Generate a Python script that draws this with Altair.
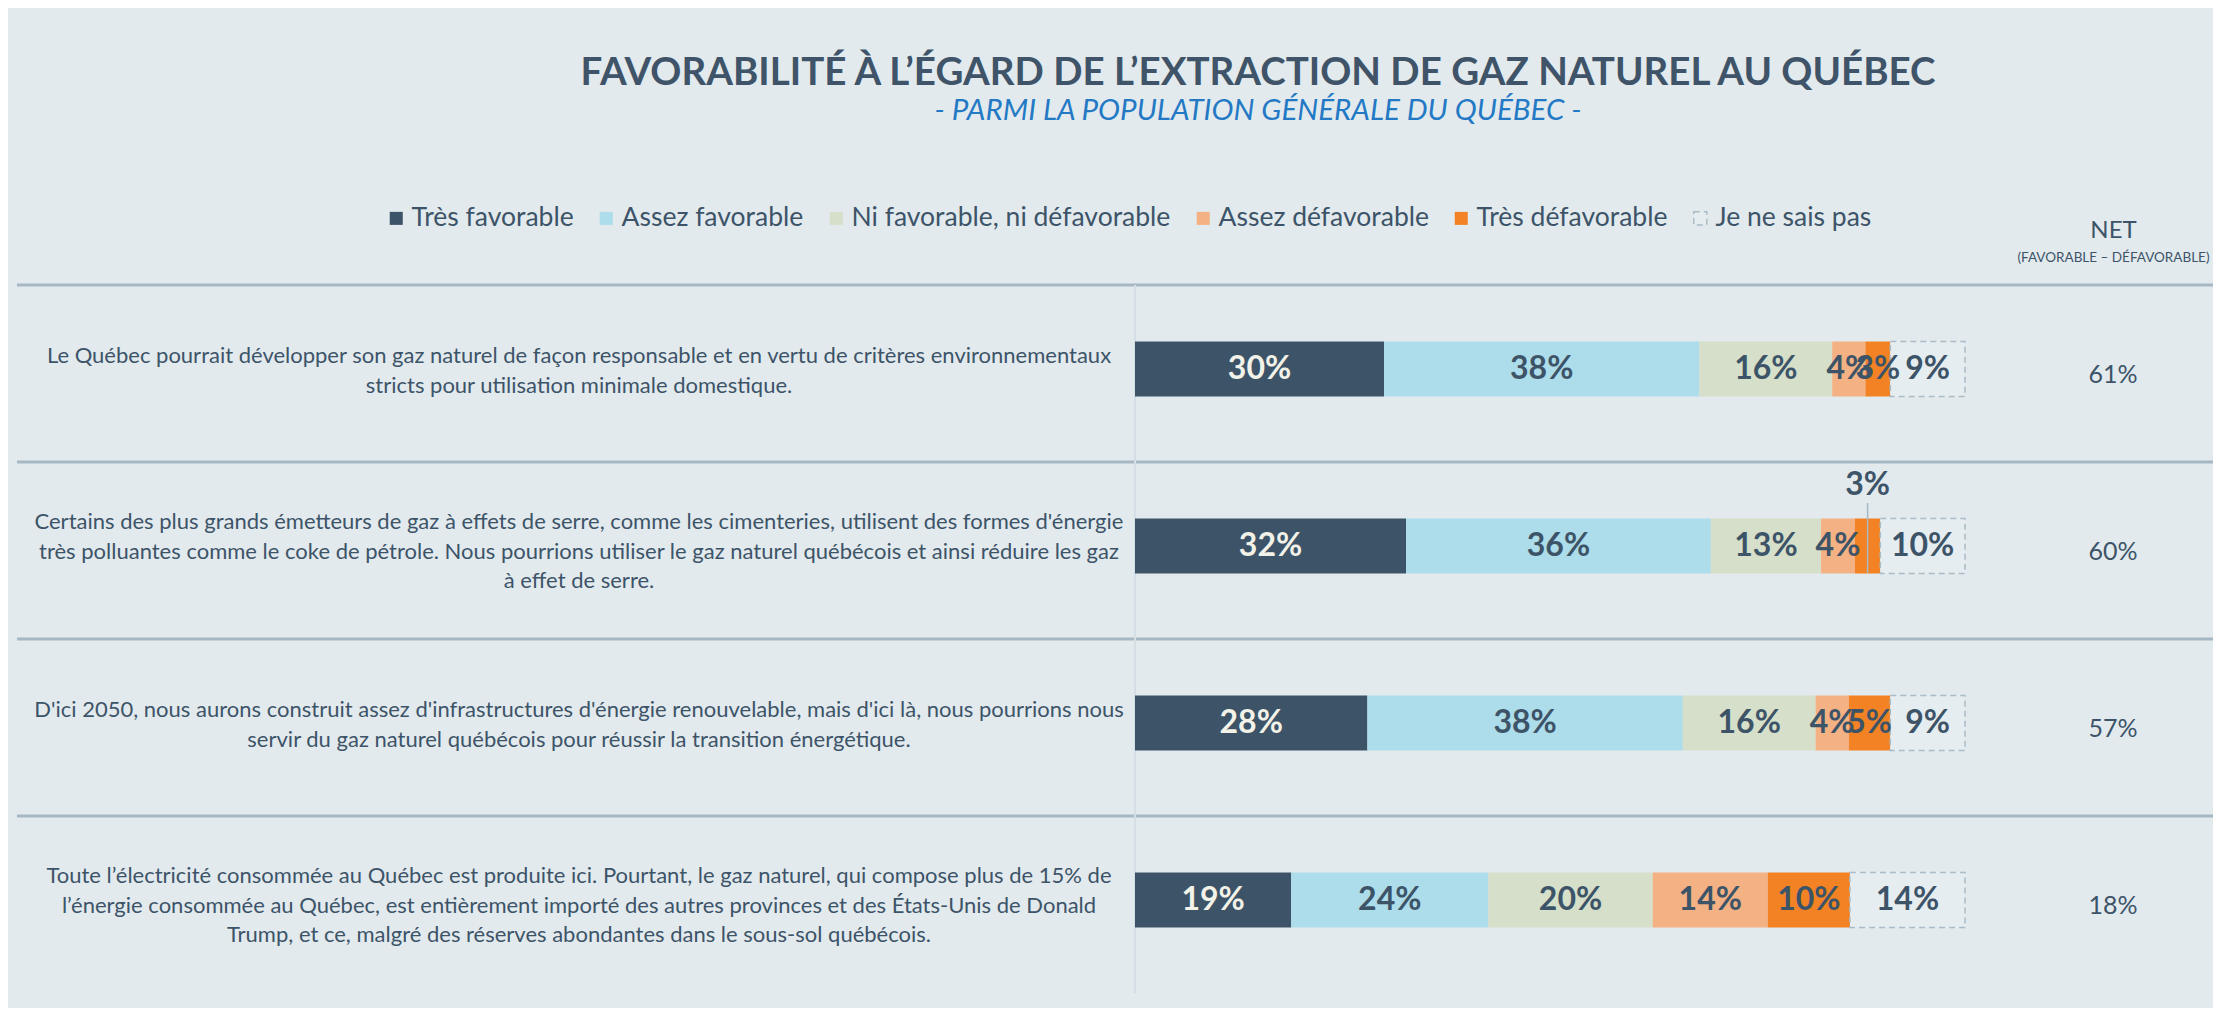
import altair as alt
import pandas as pd

# ---------------- data ----------------
STATEMENTS = ["s1", "s2", "s3", "s4"]
LABELS = [
    "Le Québec pourrait développer son gaz naturel de façon responsable et en vertu de critères environnementaux\nstricts pour utilisation minimale domestique.",
    "Certains des plus grands émetteurs de gaz à effets de serre, comme les cimenteries, utilisent des formes d'énergie\ntrès polluantes comme le coke de pétrole. Nous pourrions utiliser le gaz naturel québécois et ainsi réduire les gaz\nà effet de serre.",
    "D'ici 2050, nous aurons construit assez d'infrastructures d'énergie renouvelable, mais d'ici là, nous pourrions nous\nservir du gaz naturel québécois pour réussir la transition énergétique.",
    "Toute l’électricité consommée au Québec est produite ici. Pourtant, le gaz naturel, qui compose plus de 15% de\nl’énergie consommée au Québec, est entièrement importé des autres provinces et des États-Unis de Donald\nTrump, et ce, malgré des réserves abondantes dans le sous-sol québécois.",
]
CATS = ["Très favorable", "Assez favorable", "Ni favorable, ni défavorable",
        "Assez défavorable", "Très défavorable", "Je ne sais pas"]
TRES_FAV = [30, 32, 28, 19]
ASSEZ_FAV = [38, 36, 38, 24]
NI = [16, 13, 16, 20]
ASSEZ_DEF = [4, 4, 4, 14]
TRES_DEF = [3, 3, 5, 10]
NSP = [9, 10, 9, 14]
NET = [61, 60, 57, 18]
CALLOUTS = [("s2", "Très défavorable")]

SERIES = [TRES_FAV, ASSEZ_FAV, NI, ASSEZ_DEF, TRES_DEF, NSP]
COLORS = ["#3d5468", "#addcea", "#d6dfc9", "#f4b183", "#f28223", "#e6edf0"]

# ---------------- layout constants ----------------
W, H = 2196, 708
BAR_PX = 830.0
BAR_START = 1118.0
XMIN = -BAR_START / BAR_PX
XMAX = (W - BAR_START) / BAR_PX
NET_PX = 2096.0
NET_X = (NET_PX - BAR_START) / BAR_PX
LABEL_X = (562.0 - BAR_START) / BAR_PX

TXT = "#3d5468"
FONT = "Lato"
BG = "#e2eaee"
LINE = "#a5b8c3"

rows = []
for i, s in enumerate(STATEMENTS):
    for j, c in enumerate(CATS):
        rows.append({"stmt": s, "cat": c, "ord": j, "val": SERIES[j][i],
                     "callout": (s, c) in CALLOUTS})
df = pd.DataFrame(rows)
sdf = pd.DataFrame({"stmt": STATEMENTS, "label": LABELS,
                    "nlines": [t.count("\n") + 1 for t in LABELS],
                    "net": [f"{v}%" for v in NET]})

xscale = alt.Scale(domain=[XMIN, XMAX], nice=False, zero=False)
xaxis = alt.Axis(orient="top", values=[NET_X], labelExpr="'NET'",
                 labelFont=FONT, labelFontSize=24, labelColor=TXT,
                 labelBaseline="middle", labelPadding=55, labelAlign="center",
                 ticks=False, tickSize=0, domain=False, grid=False,
                 title="(FAVORABLE – DÉFAVORABLE)", titleFont=FONT,
                 titleFontSize=13.5, titleFontWeight="normal", titleColor=TXT,
                 titleX=NET_PX, titleY=-28, titleAlign="center",
                 titleBaseline="middle", titleAngle=0)
yscale = alt.Scale(domain=STATEMENTS, paddingInner=0, paddingOuter=0)
Y = alt.Y("stmt:N", scale=yscale, axis=None)

legend = alt.Legend(title=None, orient="none", legendX=366, legendY=-80,
                    direction="horizontal", symbolType="square",
                    symbolSize=170, symbolStrokeWidth=1.5,
                    labelFont=FONT, labelFontSize=26.5, labelColor=TXT,
                    labelLimit=0, columnPadding=19, labelOffset=2)

base = alt.Chart(df).transform_stack(
    stack="val", as_=["x0", "x1"], groupby=["stmt"],
    sort=[alt.SortField("ord", order="ascending")], offset="normalize"
).transform_calculate(mid="(datum.x0 + datum.x1) / 2",
                      lab="datum.val + '%'")

seps = alt.Chart(sdf).mark_rule(color=LINE, strokeWidth=3).encode(
    y=alt.Y("stmt:N", scale=yscale, axis=None, bandPosition=0))

vline = alt.Chart(sdf).mark_rule(color="#d4dee4", strokeWidth=1.5).encode(
    x=alt.X(datum=0, scale=xscale, axis=xaxis))

bars = base.mark_bar(size=55, yOffset=-4.5, strokeWidth=1.5).encode(
    x=alt.X("x0:Q", scale=xscale, axis=xaxis),
    x2="x1:Q",
    y=Y,
    fill=alt.Fill("cat:N", scale=alt.Scale(domain=CATS, range=COLORS), legend=legend),
    stroke=alt.Stroke("cat:N", scale=alt.Scale(domain=CATS, range=["transparent"] * 5 + ["#a9bcc7"]), legend=legend),
    strokeDash=alt.StrokeDash("cat:N", scale=alt.Scale(domain=CATS, range=[[1, 0]] * 5 + [[6, 4]]), legend=legend),
    order=alt.Order("ord:Q"),
)

label_color = alt.condition(alt.datum.cat == "Très favorable",
                            alt.value("#f3f2e8"), alt.value(TXT))

labels = base.transform_filter("!datum.callout").mark_text(
    font=FONT, fontSize=32, fontWeight="bold", baseline="middle",
    align="center", yOffset=-4.5).encode(
    x=alt.X("mid:Q", scale=xscale, axis=xaxis), y=Y, text="lab:N",
    color=label_color)

callout_tick = base.transform_filter("datum.callout").mark_tick(
    size=70, thickness=1.5, yOffset=-12.5, color=LINE, opacity=1).encode(
    x=alt.X("mid:Q", scale=xscale, axis=xaxis), y=Y)

callout_lab = base.transform_filter("datum.callout").mark_text(
    font=FONT, fontSize=32, fontWeight="bold", baseline="middle",
    align="center", yOffset=-65.5, color=TXT).encode(
    x=alt.X("mid:Q", scale=xscale, axis=xaxis), y=Y, text="lab:N")


def row_text(n, first_offset):
    return alt.Chart(sdf).transform_filter(f"datum.nlines == {n}").mark_text(
        font=FONT, fontSize=22, lineHeight=29.5, lineBreak="\n", align="center",
        baseline="middle", yOffset=first_offset, color=TXT).encode(
        x=alt.X(datum=LABEL_X, scale=xscale, axis=xaxis), y=Y, text="label:N")


row_labels2 = row_text(2, -17.5)
row_labels3 = row_text(3, -28.5)

net = alt.Chart(sdf).mark_text(
    font=FONT, fontSize=25, align="center", baseline="middle", yOffset=1.5,
    color=TXT).encode(
    x=alt.X(datum=NET_X, scale=xscale, axis=xaxis), y=Y, text="net:N")

chart = alt.layer(seps, vline, bars, callout_tick, labels, callout_lab,
                  row_labels2, row_labels3, net).properties(
    width=W, height=H,
    autosize=alt.AutoSizeParams(type="none"),
    padding={"left": 9, "top": 277, "right": 0, "bottom": 15},
    background=BG,
    title=alt.TitleParams(
        text="FAVORABILITÉ À L’ÉGARD DE L’EXTRACTION DE GAZ NATUREL AU QUÉBEC",
        subtitle="- PARMI LA POPULATION GÉNÉRALE DU QUÉBEC -",
        font=FONT, fontSize=38.5, fontWeight="bold", color="#3f5468",
        subtitleFont=FONT, subtitleFontSize=29.5, subtitleFontStyle="italic",
        subtitleColor="#2479c5", subtitlePadding=3,
        anchor="middle", dx=143, offset=79),
).configure_view(stroke=None)

chart.save("out.html", embed_options={"renderer": "svg", "actions": False})
